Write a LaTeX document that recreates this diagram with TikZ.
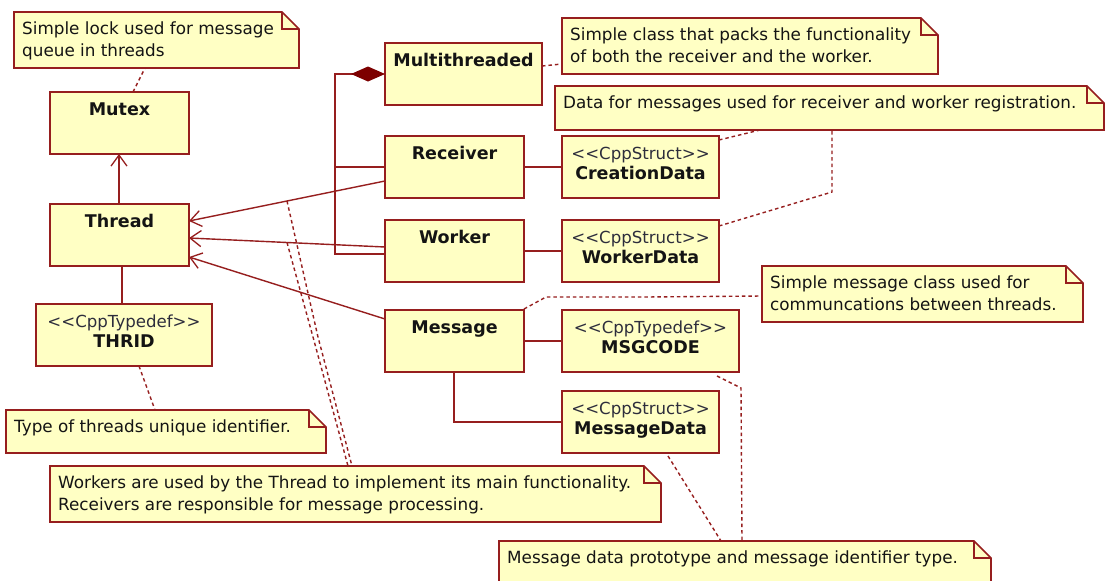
\documentclass[tikz,border=0pt]{standalone}
\usepackage{fontspec}
\setmainfont{DejaVu Sans}
\usetikzlibrary{arrows.meta,fit}
\definecolor{bfill}{RGB}{255,255,196}
\definecolor{bline}{RGB}{150,30,30}
\definecolor{dmd}{RGB}{125,0,0}
\definecolor{ink}{RGB}{20,20,20}
\definecolor{stereo}{RGB}{45,45,60}
\tikzset{
  box/.style={draw=bline, fill=bfill, line width=1.6pt, rectangle, anchor=north west, inner sep=0pt, outer sep=0pt},
  ttl/.style={font=\fontsize{17.5}{20}\selectfont\bfseries, text=ink, anchor=base, inner sep=0pt},
  ster/.style={font=\fontsize{16.6}{20}\selectfont, text=stereo, anchor=base, inner sep=0pt},
  ntxt/.style={font=\fontsize{16.8}{20}\selectfont, text=ink, anchor=base west, inner sep=0pt},
  notebody/.style={draw=bline, fill=bfill, line width=1.6pt, line join=miter},
  conn/.style={draw=bline, line width=1.4pt},
  nav/.style={conn, -{Straight Barb[length=11pt,width=16pt,line width=1.3pt]}},
  dep/.style={draw=bline, line width=1.4pt, dash pattern=on 3.5pt off 3pt},
}
\newcommand\stt[1]{<\kern0pt<#1>\kern0pt>}
\newcommand\umlclass[6]{%
  \node[box, minimum width=#4pt, minimum height=#5pt] (#1) at (#2,#3) {};
  \node[ttl] (#1-t) at ([yshift=-23pt]#1.north) {#6};
}
\newcommand\umlstruct[7]{%
  \node[box, minimum width=#4pt, minimum height=#5pt] (#1) at (#2,#3) {};
  \node[ster] (#1-s) at ([yshift=-23pt]#1.north) {\stt{#6}};
  \node[ttl] (#1-t) at ([yshift=-43pt]#1.north) {#7};
}
\newcommand\umlnote[7]{%
  \coordinate (#1-nw) at (#2,#3);
  \coordinate (#1-se) at (#4,#5);
  \node[inner sep=0pt, outer sep=0pt, fit=(#1-nw)(#1-se)] (#1) {};
  \filldraw[notebody] (#1.north west) -- ([xshift=-17pt]#1.north east) -- ([yshift=-17pt]#1.north east) -- (#1.south east) -- (#1.south west) -- cycle;
  \draw[notebody, fill=none] ([xshift=-17pt]#1.north east) -- ([xshift=-17pt,yshift=-17pt]#1.north east) -- ([yshift=-17pt]#1.north east);
  \node[ntxt] (#1-l1) at ([xshift=8pt,yshift=-22pt]#1.north west) {#6};
  \node[ntxt] (#1-l2) at ([xshift=8pt,yshift=-44pt]#1.north west) {#7};
}
\begin{document}
\begin{tikzpicture}[x=1pt,y=-1pt]
\useasboundingbox[fill=white] (0,0) rectangle (1106,581);

% notes
\umlnote{n1}{14}{12}{299}{68}{Simple lock used for message}{queue in threads}
\umlnote{n2}{562}{18}{938}{74}{Simple class that packs the functionality}{of both the receiver and the worker.}
\umlnote{n3}{555}{86}{1104}{130}{Data for messages used for receiver and worker registration.}{}
\umlnote{n4}{762}{266}{1083}{322}{Simple message class used for}{communcations between threads.}
\umlnote{n5}{6}{410}{326}{453}{Type of threads unique identifier.}{}
\umlnote{n6}{50}{466}{661}{522}{Workers are used by the Thread to implement its main functionality.}{Receivers are responsible for message processing.}
\umlnote{n7}{499}{541}{991}{600}{Message data prototype and message identifier type.}{}

% classes
\umlclass{mutex}{50}{92}{139}{62}{Mutex}
\umlclass{thread}{50}{204}{139}{62}{Thread}
\umlstruct{thrid}{36}{304}{176}{62}{CppTypedef}{THRID}
\umlclass{multi}{385}{43}{157}{62}{Multithreaded}
\umlclass{recv}{385}{136}{139}{62}{Receiver}
\umlclass{worker}{385}{220}{139}{62}{Worker}
\umlclass{msg}{385}{310}{139}{62}{Message}
\umlstruct{cdata}{562}{136}{157}{62}{CppStruct}{CreationData}
\umlstruct{wdata}{562}{220}{157}{62}{CppStruct}{WorkerData}
\umlstruct{mcode}{562}{310}{177}{62}{CppTypedef}{MSGCODE}
\umlstruct{mdata}{562}{391}{157}{62}{CppStruct}{MessageData}

% solid connectors
\draw[nav] ([xshift=69pt]thread.north west) -- ([xshift=69pt]mutex.south west);
\draw[conn] ([xshift=72pt]thread.south west) -- ([xshift=86pt]thrid.north west);
\draw[conn, {Diamond[length=34pt,width=15pt,fill=dmd,color=dmd]}-] (multi.west) -- ++(-50,0) coordinate (j) |- ([yshift=-34pt]worker.north west);
\draw[conn] (j |- recv.west) -- (recv.west);
\draw[nav] ([yshift=-45pt]recv.north west) -- coordinate[pos=0.5] (a1) ([yshift=-17pt]thread.north east);
\draw[nav] ([yshift=-27pt]worker.north west) -- coordinate[pos=0.5] (a2) ([yshift=-34pt]thread.north east);
\draw[nav] ([yshift=-9pt]msg.north west) -- ([yshift=-53pt]thread.north east);
\draw[conn] (recv.east) -- (cdata.west);
\draw[conn] (worker.east) -- (wdata.west);
\draw[conn] (msg.east) -- (mcode.west);
\draw[conn] ([xshift=69pt]msg.south west) |- (mdata.west);

% dotted note links
\draw[dep] ([xshift=83pt]mutex.north west) -- ([xshift=131pt]n1.south west);
\draw[dep] ([xshift=103pt]thrid.south west) -- ([xshift=149pt]n5.north west);
\draw[dep] ([yshift=-23pt]multi.north east) -- ([yshift=-46pt]n2.north west);
\draw[dep] ([yshift=-4pt]cdata.north east) -- ([xshift=205pt]n3.south west);
\draw[dep] ([yshift=-6pt]wdata.north east) -- ([xshift=277pt,yshift=-62pt]n3.south west) -- ([xshift=277pt]n3.south west);
\draw[dep] ([yshift=1pt]msg.north east) -- ++(22,-12) -- ++(100,0) -- ([yshift=-30pt]n4.north west);
\draw[dep] ([xshift=-22pt,yshift=-4pt]mcode.south east) -- ++(24,12) -- ([xshift=243pt]n7.north west);
\draw[dep] ([xshift=106pt,yshift=-3pt]mdata.south west) -- ([xshift=222pt]n7.north west);
\draw[dep] (a1) -- (318,337) -- ([xshift=302pt]n6.north west);
\draw[dep] (a2) -- (313,337) -- ([xshift=298pt]n6.north west);
\end{tikzpicture}
\end{document}
